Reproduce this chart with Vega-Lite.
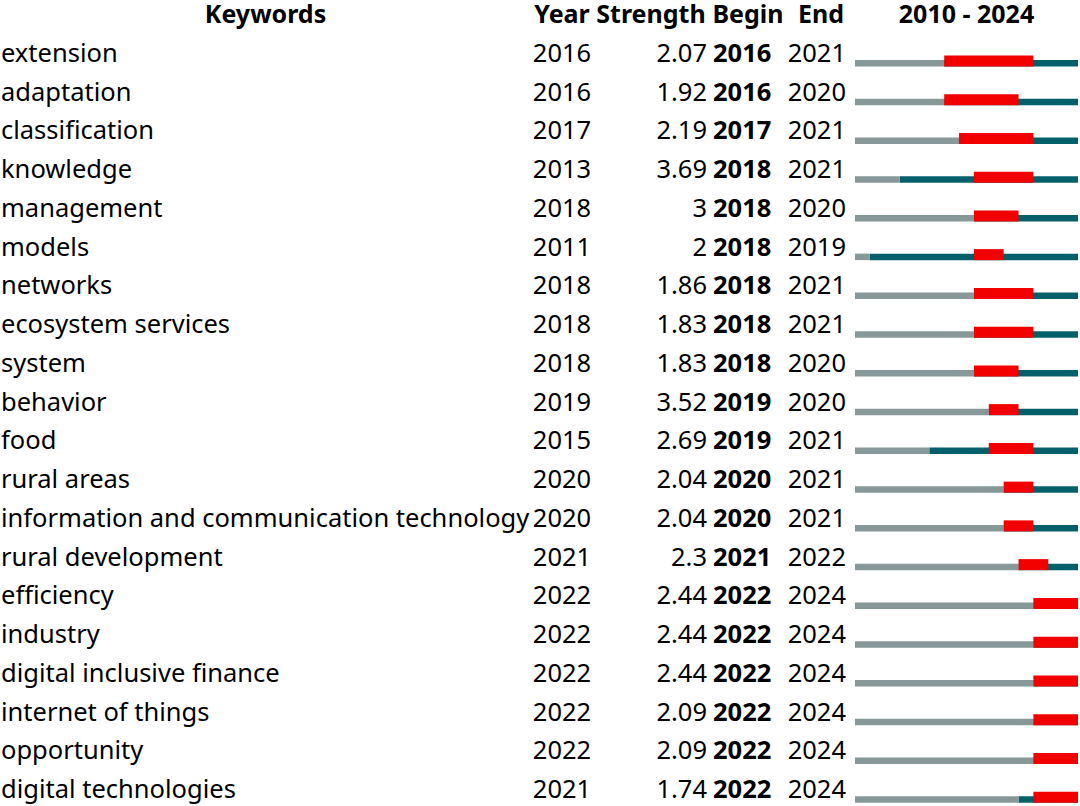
{
  "$schema": "https://vega.github.io/schema/vega-lite/v6.json",
  "padding": {"top": 3, "left": 0, "right": 0, "bottom": 0},
  "background": "white",
  "spacing": 0,
  "config": {
    "view": {"stroke": null},
    "font": "Noto Sans",
    "title": {"fontSize": 25, "fontWeight": "bold", "font": "Noto Sans", "offset": 1, "baseline": "alphabetic", "anchor": "middle", "color": "black"}
  },
  "datasets": {
    "bursts": [
      {"Keywords": "extension", "Year": 2016, "Strength": 2.07, "Begin": 2016, "End": 2021},
      {"Keywords": "adaptation", "Year": 2016, "Strength": 1.92, "Begin": 2016, "End": 2020},
      {"Keywords": "classification", "Year": 2017, "Strength": 2.19, "Begin": 2017, "End": 2021},
      {"Keywords": "knowledge", "Year": 2013, "Strength": 3.69, "Begin": 2018, "End": 2021},
      {"Keywords": "management", "Year": 2018, "Strength": 3, "Begin": 2018, "End": 2020},
      {"Keywords": "models", "Year": 2011, "Strength": 2, "Begin": 2018, "End": 2019},
      {"Keywords": "networks", "Year": 2018, "Strength": 1.86, "Begin": 2018, "End": 2021},
      {"Keywords": "ecosystem services", "Year": 2018, "Strength": 1.83, "Begin": 2018, "End": 2021},
      {"Keywords": "system", "Year": 2018, "Strength": 1.83, "Begin": 2018, "End": 2020},
      {"Keywords": "behavior", "Year": 2019, "Strength": 3.52, "Begin": 2019, "End": 2020},
      {"Keywords": "food", "Year": 2015, "Strength": 2.69, "Begin": 2019, "End": 2021},
      {"Keywords": "rural areas", "Year": 2020, "Strength": 2.04, "Begin": 2020, "End": 2021},
      {"Keywords": "information and communication technology", "Year": 2020, "Strength": 2.04, "Begin": 2020, "End": 2021},
      {"Keywords": "rural development", "Year": 2021, "Strength": 2.3, "Begin": 2021, "End": 2022},
      {"Keywords": "efficiency", "Year": 2022, "Strength": 2.44, "Begin": 2022, "End": 2024},
      {"Keywords": "industry", "Year": 2022, "Strength": 2.44, "Begin": 2022, "End": 2024},
      {"Keywords": "digital inclusive finance", "Year": 2022, "Strength": 2.44, "Begin": 2022, "End": 2024},
      {"Keywords": "internet of things", "Year": 2022, "Strength": 2.09, "Begin": 2022, "End": 2024},
      {"Keywords": "opportunity", "Year": 2022, "Strength": 2.09, "Begin": 2022, "End": 2024},
      {"Keywords": "digital technologies", "Year": 2021, "Strength": 1.74, "Begin": 2022, "End": 2024}
    ]
  },
  "hconcat": [
    {
      "data": {"name": "bursts"},
      "width": 531, "height": 775,
      "title": {"text": "Keywords"},
      "mark": {"type": "text", "align": "left", "baseline": "alphabetic", "fontSize": 25.5, "dy": 13.6, "color": "black"},
      "encoding": {
        "y": {"field": "Keywords", "type": "nominal", "sort": null, "axis": null},
        "x": {"value": 1},
        "text": {"field": "Keywords", "type": "nominal"}
      }
    },
    {
      "data": {"name": "bursts"},
      "width": 62, "height": 775,
      "title": {"text": "Year"},
      "mark": {"type": "text", "align": "center", "baseline": "alphabetic", "fontSize": 25.5, "dy": 13.6, "color": "black"},
      "encoding": {
        "y": {"field": "Keywords", "type": "nominal", "sort": null, "axis": null},
        "x": {"value": 31},
        "text": {"field": "Year", "type": "nominal"}
      }
    },
    {
      "data": {"name": "bursts"},
      "width": 116, "height": 775,
      "title": {"text": "Strength"},
      "mark": {"type": "text", "align": "right", "baseline": "alphabetic", "fontSize": 25.5, "dy": 13.6, "color": "black"},
      "encoding": {
        "y": {"field": "Keywords", "type": "nominal", "sort": null, "axis": null},
        "x": {"value": 114},
        "text": {"field": "Strength", "type": "nominal"}
      }
    },
    {
      "data": {"name": "bursts"},
      "width": 78, "height": 775,
      "title": {"text": "Begin"},
      "mark": {"type": "text", "align": "left", "baseline": "alphabetic", "fontSize": 25.5, "fontWeight": "bold", "dy": 13.6, "color": "black"},
      "encoding": {
        "y": {"field": "Keywords", "type": "nominal", "sort": null, "axis": null},
        "x": {"value": 4},
        "text": {"field": "Begin", "type": "nominal"}
      }
    },
    {
      "data": {"name": "bursts"},
      "width": 68, "height": 775,
      "title": {"text": "End"},
      "mark": {"type": "text", "align": "right", "baseline": "alphabetic", "fontSize": 25.5, "dy": 13.6, "color": "black"},
      "encoding": {
        "y": {"field": "Keywords", "type": "nominal", "sort": null, "axis": null},
        "x": {"value": 59},
        "text": {"field": "End", "type": "nominal"}
      }
    },
    {
      "data": {"name": "bursts"},
      "width": 223, "height": 775,
      "title": {"text": "2010 - 2024"},
      "transform": [{"calculate": "datum.End + 1", "as": "EndNext"}],
      "layer": [
        {
          "mark": {"type": "bar", "height": 6.5, "yOffset": 14.75, "color": "#03606b"},
          "encoding": {
            "y": {"field": "Keywords", "type": "nominal", "sort": null, "axis": null},
            "x": {"field": "Year", "type": "quantitative", "scale": {"domain": [2010, 2025], "nice": false, "zero": false}, "axis": null},
            "x2": {"datum": 2025}
          }
        },
        {
          "mark": {"type": "bar", "height": 6.5, "yOffset": 14.75, "color": "#869898"},
          "encoding": {
            "y": {"field": "Keywords", "type": "nominal", "sort": null, "axis": null},
            "x": {"field": "Year", "type": "quantitative"},
            "x2": {"datum": 2010}
          }
        },
        {
          "mark": {"type": "bar", "height": 11, "yOffset": 12.5, "color": "#f20000"},
          "encoding": {
            "y": {"field": "Keywords", "type": "nominal", "sort": null, "axis": null},
            "x": {"field": "Begin", "type": "quantitative"},
            "x2": {"field": "EndNext"}
          }
        }
      ]
    }
  ]
}
